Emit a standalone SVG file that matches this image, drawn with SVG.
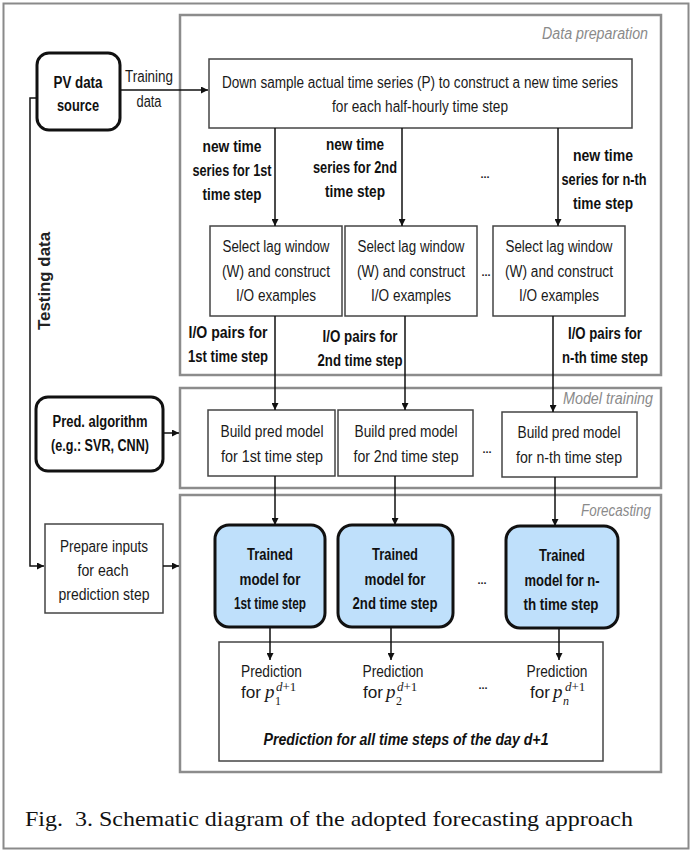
<svg xmlns="http://www.w3.org/2000/svg" width="692" height="853" viewBox="0 0 692 853">
<defs>
<style>
.t{font-family:"Liberation Sans",Arial,sans-serif;font-size:16px;fill:#1a1a1a;text-anchor:middle}
.b{font-weight:bold;fill:#111}
.s{text-anchor:start}
.lbl{font-family:"Liberation Sans",Arial,sans-serif;font-size:16px;font-style:italic;fill:#8a8a8a;text-anchor:end}
.panel{fill:#fff;stroke:#8c8c8c;stroke-width:2.5}
.box{fill:#fff;stroke:#444;stroke-width:1.5}
.rbox{fill:#fff;stroke:#111;stroke-width:3}
.blue{fill:#bfe0fb;stroke:#111;stroke-width:3}
.ln{stroke:#111;stroke-width:1.5;fill:none}
.m{font-family:"Liberation Serif","Times New Roman",serif;fill:#1a1a1a}
.dots{font-family:"Liberation Sans",Arial,sans-serif;font-size:11px;font-weight:bold;fill:#222;text-anchor:middle}
</style>
<marker id="ah" viewBox="0 0 8 8" refX="8" refY="4" markerWidth="7" markerHeight="7" markerUnits="userSpaceOnUse" orient="auto">
<path d="M0,0 L8,4 L0,8 z" fill="#111"/>
</marker>
</defs>
<rect x="0" y="0" width="692" height="853" fill="#fff"/>
<rect x="3.5" y="3.5" width="685" height="845" fill="none" stroke="#8a8a8a" stroke-width="2"/>

<g id="panel-data-preparation">
<rect class="panel" x="180" y="15" width="481" height="360"/>
<text class="lbl" x="648" y="39" textLength="106" lengthAdjust="spacingAndGlyphs">Data preparation</text>
</g>
<g id="panel-model-training">
<rect class="panel" x="180" y="388" width="481" height="100"/>
<text class="lbl" x="653" y="404" textLength="90" lengthAdjust="spacingAndGlyphs">Model training</text>
</g>
<g id="panel-forecasting">
<rect class="panel" x="180" y="495" width="481" height="277"/>
<text class="lbl" x="651" y="516" textLength="70" lengthAdjust="spacingAndGlyphs">Forecasting</text>
</g>

<g id="label-training-data">
<text class="t" x="149" y="82" textLength="48" lengthAdjust="spacingAndGlyphs">Training</text>
<text class="t" x="149" y="107" textLength="25" lengthAdjust="spacingAndGlyphs">data</text>
</g>
<g id="label-testing-data">
<text class="t" x="45" y="286" transform="rotate(-90 45 281)" textLength="98" lengthAdjust="spacingAndGlyphs" style="font-weight:600;fill:#222">Testing data</text>
</g>

<g id="pv-data-source">
<rect class="rbox" x="37" y="53" width="83" height="77" rx="12"/>
<text class="t b" x="78" y="88" textLength="49" lengthAdjust="spacingAndGlyphs">PV data</text>
<text class="t b" x="78" y="111" textLength="42" lengthAdjust="spacingAndGlyphs">source</text>
</g>

<g id="down-sample">
<rect class="box" x="209" y="59" width="423" height="69"/>
<text class="t" x="420" y="88" textLength="396" lengthAdjust="spacingAndGlyphs">Down sample actual time series (P) to construct a new time series</text>
<text class="t" x="420" y="112" textLength="176" lengthAdjust="spacingAndGlyphs">for each half-hourly time step</text>
</g>

<g id="label-new-ts-1">
<text class="t b" x="232" y="152" textLength="59" lengthAdjust="spacingAndGlyphs">new time</text>
<text class="t b" x="232" y="176" textLength="79" lengthAdjust="spacingAndGlyphs">series for 1st</text>
<text class="t b" x="232" y="200" textLength="59" lengthAdjust="spacingAndGlyphs">time step</text>
</g>
<g id="label-new-ts-2">
<text class="t b" x="355" y="150" textLength="58" lengthAdjust="spacingAndGlyphs">new time</text>
<text class="t b" x="355" y="173" textLength="84" lengthAdjust="spacingAndGlyphs">series for 2nd</text>
<text class="t b" x="355" y="197" textLength="60" lengthAdjust="spacingAndGlyphs">time step</text>
</g>
<text class="dots" x="485" y="178">...</text>
<g id="label-new-ts-n">
<text class="t b" x="603" y="161" textLength="60" lengthAdjust="spacingAndGlyphs">new time</text>
<text class="t b" x="604" y="185" textLength="85" lengthAdjust="spacingAndGlyphs">series for n-th</text>
<text class="t b" x="603" y="209" textLength="60" lengthAdjust="spacingAndGlyphs">time step</text>
</g>

<g id="select-1">
<rect class="box" x="210" y="226" width="132" height="90"/>
<text class="t" x="276" y="252" textLength="107" lengthAdjust="spacingAndGlyphs">Select lag window</text>
<text class="t" x="276" y="277" textLength="108" lengthAdjust="spacingAndGlyphs">(W) and construct</text>
<text class="t" x="276" y="301" textLength="80" lengthAdjust="spacingAndGlyphs">I/O examples</text>
</g>
<g id="select-2">
<rect class="box" x="345" y="226" width="132" height="90"/>
<text class="t" x="411" y="252" textLength="107" lengthAdjust="spacingAndGlyphs">Select lag window</text>
<text class="t" x="411" y="277" textLength="108" lengthAdjust="spacingAndGlyphs">(W) and construct</text>
<text class="t" x="411" y="301" textLength="80" lengthAdjust="spacingAndGlyphs">I/O examples</text>
</g>
<text class="dots" x="486" y="276">...</text>
<g id="select-n">
<rect class="box" x="493" y="226" width="132" height="90"/>
<text class="t" x="559" y="252" textLength="107" lengthAdjust="spacingAndGlyphs">Select lag window</text>
<text class="t" x="559" y="277" textLength="108" lengthAdjust="spacingAndGlyphs">(W) and construct</text>
<text class="t" x="559" y="301" textLength="80" lengthAdjust="spacingAndGlyphs">I/O examples</text>
</g>

<g id="label-io-1">
<text class="t b" x="228" y="338" textLength="79" lengthAdjust="spacingAndGlyphs">I/O pairs for</text>
<text class="t b" x="228" y="362" textLength="80" lengthAdjust="spacingAndGlyphs">1st time step</text>
</g>
<g id="label-io-2">
<text class="t b" x="360" y="342" textLength="75" lengthAdjust="spacingAndGlyphs">I/O pairs for</text>
<text class="t b" x="360" y="366" textLength="85" lengthAdjust="spacingAndGlyphs">2nd time step</text>
</g>
<g id="label-io-n">
<text class="t b" x="605" y="339" textLength="74" lengthAdjust="spacingAndGlyphs">I/O pairs for</text>
<text class="t b" x="605" y="363" textLength="86" lengthAdjust="spacingAndGlyphs">n-th time step</text>
</g>

<g id="pred-algorithm">
<rect class="rbox" x="36" y="397" width="127" height="74" rx="12"/>
<text class="t b" x="100" y="427" textLength="95" lengthAdjust="spacingAndGlyphs">Pred. algorithm</text>
<text class="t b" x="100" y="451" textLength="98" lengthAdjust="spacingAndGlyphs">(e.g.: SVR, CNN)</text>
</g>

<g id="build-1">
<rect class="box" x="208" y="410" width="127" height="66"/>
<text class="t" x="272" y="437" textLength="103" lengthAdjust="spacingAndGlyphs">Build pred model</text>
<text class="t" x="272" y="462" textLength="102" lengthAdjust="spacingAndGlyphs">for 1st time step</text>
</g>
<g id="build-2">
<rect class="box" x="338" y="410" width="135" height="66"/>
<text class="t" x="406" y="437" textLength="103" lengthAdjust="spacingAndGlyphs">Build pred model</text>
<text class="t" x="406" y="462" textLength="105" lengthAdjust="spacingAndGlyphs">for 2nd time step</text>
</g>
<text class="dots" x="487" y="453">...</text>
<g id="build-n">
<rect class="box" x="502" y="412" width="135" height="65"/>
<text class="t" x="569" y="438" textLength="103" lengthAdjust="spacingAndGlyphs">Build pred model</text>
<text class="t" x="569" y="463" textLength="106" lengthAdjust="spacingAndGlyphs">for n-th time step</text>
</g>

<g id="prepare-inputs">
<rect class="box" x="45" y="524" width="118" height="89"/>
<text class="t" x="104" y="552" textLength="88" lengthAdjust="spacingAndGlyphs">Prepare inputs</text>
<text class="t" x="103" y="576" textLength="51" lengthAdjust="spacingAndGlyphs">for each</text>
<text class="t" x="104" y="600" textLength="91" lengthAdjust="spacingAndGlyphs">prediction step</text>
</g>

<g id="trained-1">
<rect class="blue" x="215" y="525" width="110" height="102" rx="14"/>
<text class="t b" x="270" y="560" textLength="46" lengthAdjust="spacingAndGlyphs">Trained</text>
<text class="t b" x="270" y="585" textLength="61" lengthAdjust="spacingAndGlyphs">model for</text>
<text class="t b" x="270" y="609" textLength="72" lengthAdjust="spacingAndGlyphs">1st time step</text>
</g>
<g id="trained-2">
<rect class="blue" x="338" y="525" width="115" height="102" rx="14"/>
<text class="t b" x="395" y="560" textLength="46" lengthAdjust="spacingAndGlyphs">Trained</text>
<text class="t b" x="395" y="585" textLength="61" lengthAdjust="spacingAndGlyphs">model for</text>
<text class="t b" x="395" y="609" textLength="85" lengthAdjust="spacingAndGlyphs">2nd time step</text>
</g>
<text class="dots" x="482" y="584">...</text>
<g id="trained-n">
<rect class="blue" x="506" y="526" width="112" height="102" rx="14"/>
<text class="t b" x="562" y="561" textLength="46" lengthAdjust="spacingAndGlyphs">Trained</text>
<text class="t b" x="562" y="586" textLength="75" lengthAdjust="spacingAndGlyphs">model for n-</text>
<text class="t b" x="561" y="610" textLength="75" lengthAdjust="spacingAndGlyphs">th time step</text>
</g>

<g id="prediction">
<rect class="box" x="219" y="642" width="384" height="119"/>
<text class="t s" x="241" y="677" textLength="61" lengthAdjust="spacingAndGlyphs">Prediction</text>
<text class="t s" x="241" y="698" textLength="20" lengthAdjust="spacingAndGlyphs">for</text>
<text class="m" x="265" y="698" font-size="19" font-style="italic">p</text>
<text class="m" x="275" y="705" font-size="12">1</text>
<text class="m" x="276" y="691" font-size="13"><tspan font-style="italic">d</tspan>+1</text>

<text class="t" x="393" y="677" textLength="61" lengthAdjust="spacingAndGlyphs">Prediction</text>
<text class="t s" x="363" y="698" textLength="20" lengthAdjust="spacingAndGlyphs">for</text>
<text class="m" x="386" y="698" font-size="19" font-style="italic">p</text>
<text class="m" x="396" y="705" font-size="12">2</text>
<text class="m" x="397" y="691" font-size="13"><tspan font-style="italic">d</tspan>+1</text>

<text class="dots" x="483" y="689">...</text>

<text class="t" x="557" y="677" textLength="61" lengthAdjust="spacingAndGlyphs">Prediction</text>
<text class="t s" x="530" y="698" textLength="20" lengthAdjust="spacingAndGlyphs">for</text>
<text class="m" x="553" y="698" font-size="19" font-style="italic">p</text>
<text class="m" x="563" y="705" font-size="12" font-style="italic">n</text>
<text class="m" x="565" y="691" font-size="13"><tspan font-style="italic">d</tspan>+1</text>

<text class="t b" x="406" y="745" textLength="285" lengthAdjust="spacingAndGlyphs" font-style="italic">Prediction for all time steps of the day d+1</text>
</g>

<g id="connectors">
<line class="ln" x1="120" y1="90" x2="208" y2="90" marker-end="url(#ah)"/>
<polyline class="ln" points="37,98 30,98 30,566 44,566" marker-end="url(#ah)"/>
<line class="ln" x1="163" y1="433" x2="179" y2="433" marker-end="url(#ah)"/>
<line class="ln" x1="163" y1="566" x2="179" y2="566" marker-end="url(#ah)"/>
<line class="ln" x1="275" y1="128" x2="275" y2="226" marker-end="url(#ah)"/>
<line class="ln" x1="402" y1="128" x2="402" y2="226" marker-end="url(#ah)"/>
<line class="ln" x1="558" y1="128" x2="558" y2="226" marker-end="url(#ah)"/>
<line class="ln" x1="275" y1="316" x2="275" y2="410" marker-end="url(#ah)"/>
<line class="ln" x1="405" y1="316" x2="405" y2="410" marker-end="url(#ah)"/>
<line class="ln" x1="553" y1="316" x2="553" y2="412" marker-end="url(#ah)"/>
<line class="ln" x1="275" y1="476" x2="275" y2="525" marker-end="url(#ah)"/>
<line class="ln" x1="395" y1="476" x2="395" y2="525" marker-end="url(#ah)"/>
<line class="ln" x1="555" y1="477" x2="555" y2="526" marker-end="url(#ah)"/>
<line class="ln" x1="270" y1="627" x2="270" y2="660" marker-end="url(#ah)"/>
<line class="ln" x1="391" y1="627" x2="391" y2="660" marker-end="url(#ah)"/>
<line class="ln" x1="559" y1="628" x2="559" y2="660" marker-end="url(#ah)"/>
</g>

<text x="25" y="826" xml:space="preserve" font-family="'Liberation Serif','Times New Roman',serif" font-size="22" fill="#111" textLength="608" lengthAdjust="spacingAndGlyphs">Fig.  3. Schematic diagram of the adopted forecasting approach</text>
</svg>
